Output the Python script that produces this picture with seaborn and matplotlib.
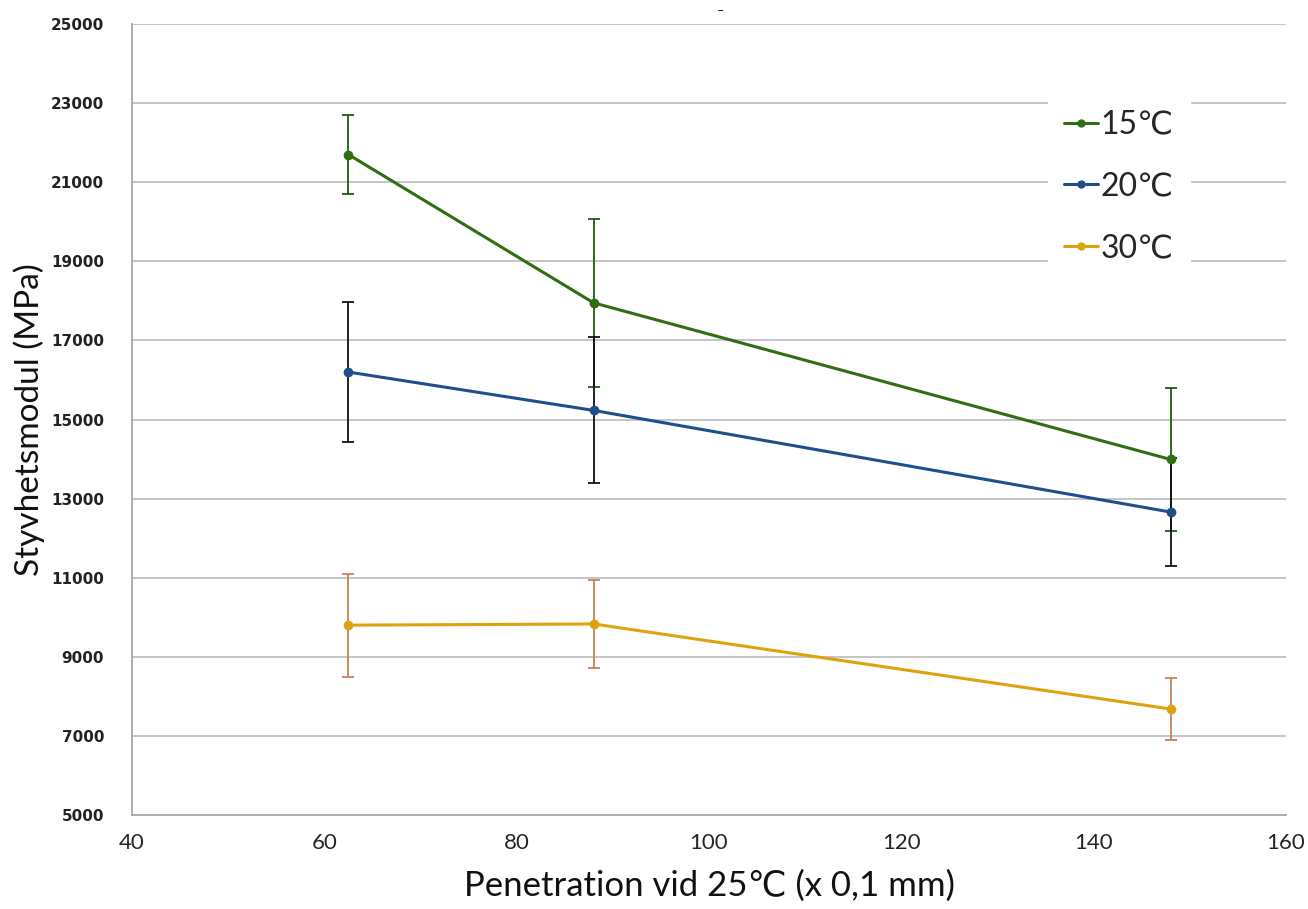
import matplotlib
matplotlib.use("Agg")
import matplotlib.pyplot as plt
import seaborn as sns
import pandas as pd
import numpy as np

# Penetration (x 0,1 mm) of the three binders
penetration = [62.5, 88, 148]

# Stiffness modulus (MPa) and its spread per test temperature
temps = ["15\u2103", "20\u2103", "30\u2103"]
modulus_15 = [21700, 17950, 13990]
modulus_20 = [16200, 15230, 12660]
modulus_30 = [9800, 9830, 7680]
spread_15 = [1000, 2120, 1800]
spread_20 = [1760, 1845, 1370]
spread_30 = [1300, 1120, 790]

y_ticks = list(range(5000, 25001, 2000))
x_ticks = list(range(40, 161, 20))

line_colors = ["#2F6E12", "#1F4E8C", "#DDA20E"]
bar_colors = ["#1F5A10", "#111111", "#C8805A"]

rows = []
for t, vals in zip(temps, [modulus_15, modulus_20, modulus_30]):
    for x, v in zip(penetration, vals):
        rows.append({"Penetration": x, "Modulus": v, "Temp": t})
df = pd.DataFrame(rows)

sns.set_theme(style="white")
plt.rcParams["font.family"] = ["Lato", "DejaVu Sans"]

fig = plt.figure(figsize=(13.08, 9.09), dpi=100)
ax = fig.add_axes([132 / 1308, 1 - 815 / 909, (1286 - 132) / 1308, (815 - 24) / 909])

sns.lineplot(data=df, x="Penetration", y="Modulus", hue="Temp",
             palette=dict(zip(temps, line_colors)), marker="o",
             markersize=7, markeredgewidth=0, linewidth=2.2, ax=ax,
             zorder=3)

for vals, errs, c, z in zip([modulus_15, modulus_20, modulus_30],
                            [spread_15, spread_20, spread_30],
                            bar_colors, [2, 2.5, 2]):
    ax.errorbar(penetration, vals, yerr=errs, fmt="none", ecolor=c,
                elinewidth=1.3, capsize=4, capthick=1.3, zorder=z)

ax.set_xlim(40, 160)
ax.set_ylim(5000, 25000)
ax.set_xticks(x_ticks)
ax.set_yticks(y_ticks)
ax.set_xticklabels([str(v) for v in x_ticks], fontsize=16, family=["Lato", "DejaVu Sans"])
ax.set_yticklabels([str(v) for v in y_ticks], fontsize=11, fontweight="bold",
                   family=["DejaVu Sans"], color="#222222")
ax.tick_params(axis="x", length=0, pad=13)
ax.tick_params(axis="y", length=0, pad=20)

ax.yaxis.grid(True, color="#C0C0C0", linewidth=1.3)
ax.xaxis.grid(False)
for side in ["top", "right"]:
    ax.spines[side].set_visible(False)
for side in ["left", "bottom"]:
    ax.spines[side].set_color("#A8A8A8")
    ax.spines[side].set_linewidth(1.3)

ax.set_xlabel("Penetration vid 25\u2103 (x 0,1 mm)", fontsize=25, labelpad=12,
              family=["Lato", "DejaVu Sans"], color="#111111")
ax.set_ylabel("Styvhetsmodul (MPa)", fontsize=24, labelpad=4,
              family=["Lato", "DejaVu Sans"], color="#111111")

leg = ax.legend(title=None, loc="upper left", bbox_to_anchor=(0.78, 0.932),
                frameon=True, fontsize=23, handlelength=1.05, handletextpad=0.1,
                labelspacing=1.0, borderpad=0.5, fancybox=False)
leg.get_frame().set_edgecolor("white")
leg.get_frame().set_facecolor("white")
leg.get_frame().set_alpha(1)
for h in leg.legend_handles:
    h.set_markersize(6)
    h.set_linewidth(2.2)

fig.text(720 / 1308, 1 - 11 / 909, "\u2013", fontsize=9, ha="center", va="center",
         color="#111111")

fig.savefig("out.png", dpi=100, facecolor="white")
